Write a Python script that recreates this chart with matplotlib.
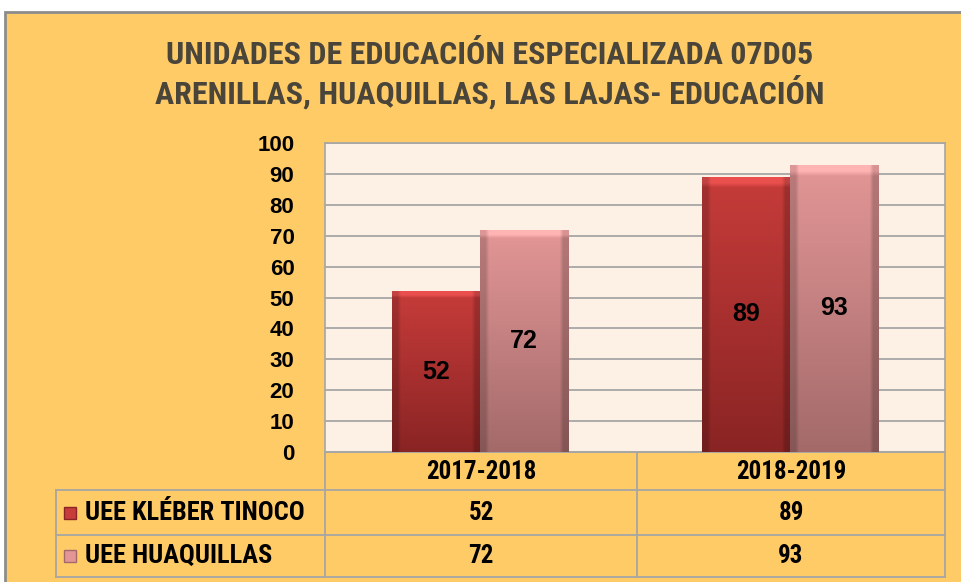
import numpy as np
import matplotlib
matplotlib.use("Agg")
import matplotlib.pyplot as plt
from matplotlib import font_manager
from matplotlib.patches import Rectangle
from matplotlib.colors import to_rgb

# data
periods = ["2017-2018", "2018-2019"]
series_names = ["UEE KLÉBER TINOCO", "UEE HUAQUILLAS"]
kleber = [52, 89]
huaquillas = [72, 93]
y_ticks = list(range(0, 101, 10))

title_lines = ["UNIDADES DE EDUCACIÓN ESPECIALIZADA 07D05",
               "ARENILLAS, HUAQUILLAS, LAS LAJAS- EDUCACIÓN"]


def pick_font(names):
    for n in names:
        try:
            font_manager.findfont(n, fallback_to_default=False)
            return n
        except Exception:
            pass
    return "DejaVu Sans"


narrow = pick_font(["Liberation Sans Narrow", "Roboto Condensed", "Liberation Sans"])
wide = pick_font(["Liberation Sans", "Arimo", "DejaVu Sans"])

W, H = 961, 582
ORANGE = "#FFCB66"
PEACH = "#FDF0E4"
GRID = "#A6A6A6"
colors_top = ["#C63C3A", "#E39696"]
colors_bot = ["#8A2424", "#A46A6A"]

fig = plt.figure(figsize=(W / 100, H / 100), dpi=100)
fig.patch.set_facecolor("white")

# background axes in pixel coordinates
bg = fig.add_axes([0, 0, 1, 1])
bg.set_xlim(0, W)
bg.set_ylim(H, 0)
bg.axis("off")
bg.set_zorder(0)
bg.add_patch(Rectangle((5, 12), W + 10, H, facecolor=ORANGE, edgecolor="#8C8C8C", lw=2))

for i, line in enumerate(title_lines):
    bg.text(490, 55 + i * 37, line, ha="center", va="center", fontsize=23,
            color="#363636", family=narrow, fontweight="bold", alpha=0.9)

# plot area
px0, px1, py0, py1 = 325, 945, 143, 452
ax = fig.add_axes([px0 / W, 1 - py1 / H, (px1 - px0) / W, (py1 - py0) / H])
ax.set_zorder(1)
ax.set_facecolor(PEACH)
ax.set_xlim(-0.5, len(periods) - 0.5)
ax.set_ylim(0, 100)
ax.set_yticks(y_ticks)
ax.set_xticks([])
ax.tick_params(axis="y", length=0, pad=22)
for lab in ax.get_yticklabels():
    lab.set_fontsize(16)
    lab.set_fontweight("bold")
    lab.set_family(wide)
ax.yaxis.grid(True, color=GRID, lw=1.3)
ax.set_axisbelow(True)
for s in ax.spines.values():
    s.set_color(GRID)
    s.set_linewidth(1.2)


def shade(top, bot, ny=60, nx=24):
    t = np.array(to_rgb(top))
    b = np.array(to_rgb(bot))
    f = np.linspace(0, 1, ny)[:, None]
    col = t[None, :] * (1 - f) + b[None, :] * f
    img = np.repeat(col[:, None, :], nx, axis=1)
    edge = np.ones(nx)
    edge[:2] = 0.82
    edge[-2:] = 0.80
    img = img * edge[None, :, None]
    img[:2] = np.clip(img[:2] * 1.12 + 0.05, 0, 1)
    return img


bw = 0.285
x = np.arange(len(periods))
for k, vals in enumerate([kleber, huaquillas]):
    off = (k - 0.5) * bw
    bars = ax.bar(x + off, vals, bw, color=colors_top[k], edgecolor="none", zorder=2)
    for b, v in zip(bars, vals):
        im = ax.imshow(shade(colors_top[k], colors_bot[k]), aspect="auto",
                       extent=[b.get_x(), b.get_x() + bw, 0, v], zorder=3,
                       interpolation="bilinear")
        im.set_clip_path(b)
        ax.text(b.get_x() + bw / 2, v / 2, str(v), ha="center", va="center",
                fontsize=18, fontweight="bold", family=wide, zorder=4)
ax.set_xlim(-0.5, len(periods) - 0.5)
ax.set_ylim(0, 100)

# data table below the plot
cols = [px0, 637, px1]
rows = [py1, 490, 535, 577]
lx = 56
tl = dict(color=GRID, lw=1.3)
bg.plot([px0, px1], [rows[0], rows[0]], **tl)
for yy in rows[1:]:
    bg.plot([lx, px1], [yy, yy], **tl)
for xx in cols:
    bg.plot([xx, xx], [rows[0], rows[-1]], **tl)
bg.plot([lx, lx], [rows[1], rows[-1]], **tl)

for j, p in enumerate(periods):
    bg.text((cols[j] + cols[j + 1]) / 2, (rows[0] + rows[1]) / 2 + 1, p,
            ha="center", va="center", fontsize=18, fontweight="bold", family=narrow)

for i, (name, vals) in enumerate(zip(series_names, [kleber, huaquillas])):
    yc = (rows[i + 1] + rows[i + 2]) / 2
    sw = Rectangle((64, yc - 6), 12, 12, facecolor=colors_top[i], edgecolor=colors_bot[i], lw=1)
    bg.add_patch(sw)
    bg.text(85, yc, name, ha="left", va="center", fontsize=19, fontweight="bold", family=narrow)
    for j, v in enumerate(vals):
        bg.text((cols[j] + cols[j + 1]) / 2, yc, str(v), ha="center", va="center",
                fontsize=18, fontweight="bold", family=narrow)

fig.savefig("out.png", dpi=100, facecolor=fig.get_facecolor())
